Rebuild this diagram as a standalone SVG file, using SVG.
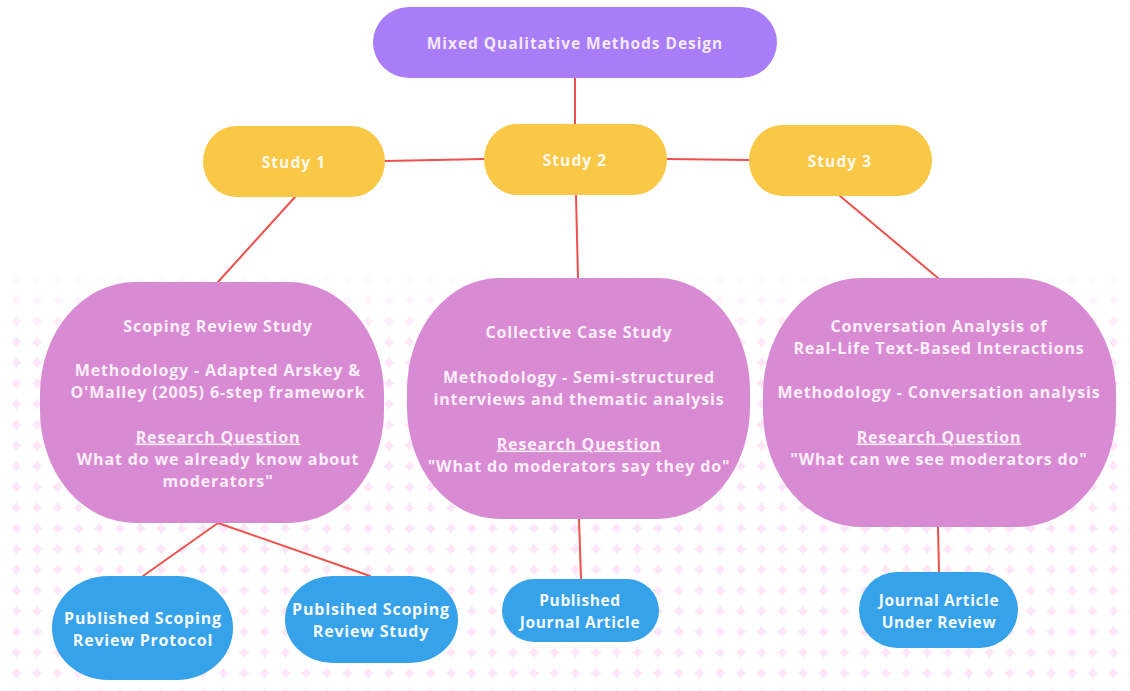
<svg xmlns="http://www.w3.org/2000/svg" width="1130" height="691" viewBox="0 0 1130 691">
  <defs>
    <style>
      .edge { stroke: #f0504c; stroke-width: 2; fill: none; stroke-linecap: round; }
      .top { fill: #a97cf8; }
      .study { fill: #f8c846; }
      .big { fill: #d88bd2; }
      .out { fill: #35a2ea; }
      .t { font-family: "Open Sans", "Liberation Sans", sans-serif; font-weight: 700; text-anchor: middle; }
      .top-t { fill: #f3eafd; font-size: 15.5px; letter-spacing: 0.95px; }
      .study-t { fill: #fff8ec; font-size: 15.5px; letter-spacing: 1.1px; }
      .big-t { fill: #fbeefa; font-size: 16px; letter-spacing: 0.85px; }
      .out-t { fill: #f4faff; font-size: 16px; letter-spacing: 0.8px; }
      .out-n { fill: #f4faff; font-size: 15.5px; letter-spacing: 0.6px; }
      .u { text-decoration: underline; }
    </style>
    <!-- soft pink sparkle tile for the lower backdrop -->
    <pattern id="dots" x="6" y="0.5" width="20.7" height="20.7" patternUnits="userSpaceOnUse">
      <path d="M10.35 4 Q11.3 9.4 16.7 10.35 Q11.3 11.3 10.35 16.7 Q9.4 11.3 4 10.35 Q9.4 9.4 10.35 4 Z" fill="#fce6f7"/>
      <circle cx="10.35" cy="10.35" r="3.3" fill="#fce6f7"/>
    </pattern>
    <linearGradient id="fade" x1="0" y1="0" x2="0" y2="1">
      <stop offset="0" stop-color="#fff" stop-opacity="0"/>
      <stop offset="0.2" stop-color="#fff" stop-opacity="1"/>
      <stop offset="1" stop-color="#fff" stop-opacity="1"/>
    </linearGradient>
    <mask id="fadeMask" maskUnits="userSpaceOnUse" x="0" y="260" width="1130" height="431">
      <rect x="0" y="262" width="1130" height="429" fill="url(#fade)"/>
    </mask>
  </defs>

  <rect width="1130" height="691" fill="#ffffff"/>
  <rect x="12" y="262" width="1118" height="429" fill="url(#dots)" mask="url(#fadeMask)"/>

  <g id="connectors">
    <line class="edge" x1="575" y1="78" x2="575" y2="124"/>
    <line class="edge" x1="385" y1="161" x2="484" y2="159"/>
    <line class="edge" x1="667" y1="159" x2="749" y2="160"/>
    <line class="edge" x1="295" y1="197" x2="218" y2="282"/>
    <line class="edge" x1="576" y1="195" x2="578" y2="278"/>
    <line class="edge" x1="840" y1="196" x2="938" y2="278"/>
    <line class="edge" x1="218" y1="523" x2="143" y2="576"/>
    <line class="edge" x1="218" y1="523" x2="370" y2="576"/>
    <line class="edge" x1="579" y1="519" x2="581" y2="579"/>
    <line class="edge" x1="938" y1="527" x2="939" y2="572"/>
  </g>

  <g id="mixed-methods">
    <rect class="top" x="373" y="7" width="404" height="71" rx="36" ry="35.5"/>
    <text class="t top-t" x="575" y="48.5">Mixed Qualitative Methods Design</text>
  </g>

  <g id="study-1">
    <rect class="study" x="203" y="126" width="182" height="71" rx="33" ry="35.5"/>
    <text class="t study-t" x="294" y="167.5">Study 1</text>
  </g>
  <g id="study-2">
    <rect class="study" x="484" y="124" width="183" height="71" rx="33" ry="35.5"/>
    <text class="t study-t" x="575" y="165.5">Study 2</text>
  </g>
  <g id="study-3">
    <rect class="study" x="749" y="125" width="183" height="71" rx="33" ry="35.5"/>
    <text class="t study-t" x="840" y="166.5">Study 3</text>
  </g>

  <g id="scoping-review">
    <rect class="big" x="40" y="282" width="344" height="241" rx="95" ry="112"/>
    <text class="t big-t" x="218" y="331.5">Scoping Review Study</text>
    <text class="t big-t" x="218" y="375.5">Methodology - Adapted Arskey &amp;</text>
    <text class="t big-t" x="218" y="397.5">O'Malley (2005) 6-step framework</text>
    <text class="t big-t u" x="218" y="442.5">Research Question</text>
    <text class="t big-t" x="218" y="464.5">What do we already know about</text>
    <text class="t big-t" x="218" y="486.5">moderators"</text>
  </g>

  <g id="case-study">
    <rect class="big" x="407" y="278" width="343" height="241" rx="92" ry="112"/>
    <text class="t big-t" x="579" y="337.5">Collective Case Study</text>
    <text class="t big-t" x="579" y="382.5">Methodology - Semi-structured</text>
    <text class="t big-t" x="579" y="404.5">interviews and thematic analysis</text>
    <text class="t big-t u" x="579" y="449.5">Research Question</text>
    <text class="t big-t" x="579" y="471.5">"What do moderators say they do"</text>
  </g>

  <g id="conversation-analysis">
    <rect class="big" x="763" y="278" width="353" height="249" rx="98" ry="116"/>
    <text class="t big-t" x="939" y="331.5">Conversation Analysis of</text>
    <text class="t big-t" x="939" y="353.5">Real-Life Text-Based Interactions</text>
    <text class="t big-t" x="939" y="397.5">Methodology - Conversation analysis</text>
    <text class="t big-t u" x="939" y="442.5">Research Question</text>
    <text class="t big-t" x="939" y="464.5">"What can we see moderators do"</text>
  </g>

  <g id="protocol">
    <rect class="out" x="52" y="576" width="181" height="104" rx="56" ry="52"/>
    <text class="t out-t" x="143" y="623.5">Published Scoping</text>
    <text class="t out-t" x="143" y="645.5">Review Protocol</text>
  </g>
  <g id="review-study">
    <rect class="out" x="285" y="576" width="173" height="87" rx="48" ry="43.5"/>
    <text class="t out-t" x="371" y="614.5">Publsihed Scoping</text>
    <text class="t out-t" x="371" y="636.5">Review Study</text>
  </g>
  <g id="journal-article">
    <rect class="out" x="502" y="579" width="157" height="63" rx="32" ry="31.5"/>
    <text class="t out-n" x="580" y="605.5">Published</text>
    <text class="t out-n" x="580" y="627.5">Journal Article</text>
  </g>
  <g id="under-review">
    <rect class="out" x="859" y="572" width="159" height="76" rx="38" ry="38"/>
    <text class="t out-n" x="939" y="605.5">Journal Article</text>
    <text class="t out-n" x="939" y="627.5">Under Review</text>
  </g>
</svg>
